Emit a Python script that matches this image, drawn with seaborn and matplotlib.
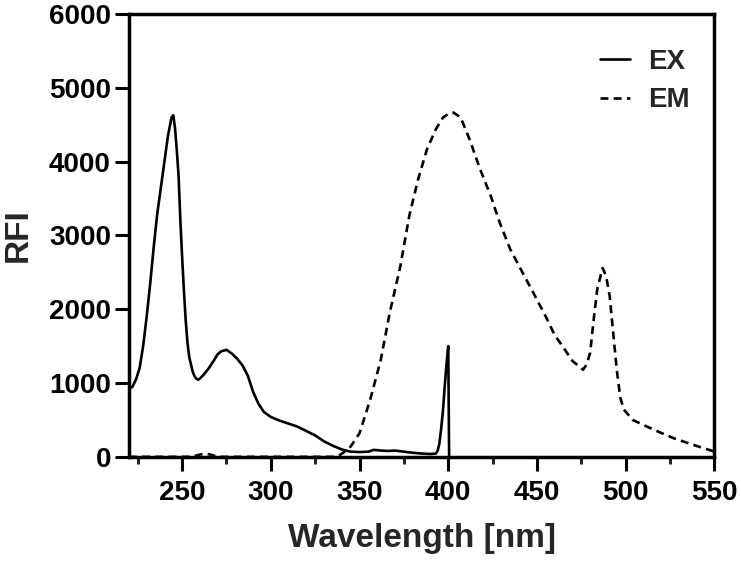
import numpy as np
import pandas as pd
import matplotlib
matplotlib.use("Agg")
import matplotlib.pyplot as plt
import seaborn as sns
from matplotlib.ticker import MultipleLocator

# Excitation spectrum
ex_wl = [220, 222, 224, 226, 228, 230, 232, 234, 236, 238, 240, 242, 244, 245,
         246, 247, 248, 249, 250, 251, 252, 253, 254, 255, 256, 257, 258, 259,
         260, 262, 265, 268, 270, 272, 275, 278, 281, 284, 287, 290, 293, 296,
         300, 305, 310, 315, 320, 325, 330, 335, 340, 345, 350, 355, 358, 362,
         366, 370, 375, 380, 385, 390, 393, 394, 395, 396, 397, 398, 399, 400,
         400.5]
ex_rfi = [920, 950, 1050, 1200, 1500, 1900, 2350, 2850, 3300, 3650, 4000, 4350,
          4600, 4630, 4450, 4150, 3800, 3200, 2700, 2250, 1850, 1550, 1350, 1250,
          1150, 1090, 1060, 1045, 1060, 1110, 1200, 1310, 1390, 1430, 1450, 1400,
          1330, 1240, 1100, 880, 720, 610, 540, 490, 450, 410, 350, 290, 210, 150,
          100, 70, 65, 70, 95, 85, 80, 85, 70, 55, 45, 38, 45, 80, 180, 380, 620,
          950, 1250, 1500, 0]

# Emission spectrum
em_wl = [220, 255, 260, 263, 266, 270, 335, 338, 341, 345, 350, 356, 362, 367,
         373, 378, 383, 388, 393, 397, 401, 403, 407, 412, 418, 424, 429, 435,
         441, 448, 455, 460, 465, 470, 476, 478, 480, 482, 484, 487, 489, 491,
         493, 495, 497, 499, 504, 516, 527, 538, 550]
em_rfi = [0, 0, 30, 45, 30, 0, 0, 10, 60, 140, 320, 774, 1317, 1950, 2583, 3262,
          3760, 4167, 4439, 4597, 4665, 4665, 4600, 4303, 3896, 3533, 3176, 2810,
          2538, 2222, 1900, 1650, 1480, 1300, 1180, 1250, 1410, 1860, 2270, 2560,
          2450, 2180, 1680, 1180, 800, 640, 500, 366, 253, 163, 72]

ex = pd.DataFrame({"Wavelength": ex_wl, "RFI": ex_rfi})
em = pd.DataFrame({"Wavelength": em_wl, "RFI": em_rfi})

sns.set_style("ticks")
plt.rcParams["font.family"] = ["Liberation Sans", "DejaVu Sans"]
plt.rcParams["font.weight"] = "bold"

fig = plt.figure(figsize=(7.41, 5.64), dpi=100)
ax = fig.add_axes([0.174, 0.19, 0.79, 0.785])

sns.lineplot(data=ex, x="Wavelength", y="RFI", ax=ax, color="black",
             linewidth=1.9, label="EX", sort=False)
sns.lineplot(data=em, x="Wavelength", y="RFI", ax=ax, color="black",
             linewidth=1.9, linestyle=(0, (3, 2)), label="EM", sort=False)

ax.set_xlim(220, 550)
ax.set_ylim(0, 6000)
ax.xaxis.set_major_locator(MultipleLocator(50))
ax.xaxis.set_minor_locator(MultipleLocator(25))
ax.yaxis.set_major_locator(MultipleLocator(1000))

for s in ax.spines.values():
    s.set_linewidth(2.5)
    s.set_color("black")
ax.tick_params(axis="both", which="major", length=10, width=2.2, labelsize=20,
               pad=3, colors="black")
ax.tick_params(axis="x", which="major", pad=7)
ax.tick_params(axis="x", which="minor", length=5, width=2.2)

ax.set_xlabel("Wavelength [nm]", fontsize=24, fontweight="bold", labelpad=12)
ax.set_ylabel("RFI", fontsize=24, fontweight="bold", labelpad=11)

leg = ax.legend(loc="upper right", bbox_to_anchor=(1.0, 0.978), frameon=False,
                fontsize=20, handlelength=1.08, handletextpad=0.65,
                labelspacing=0.45)
for t in leg.get_texts():
    t.set_fontweight("bold")

fig.savefig("out.png", dpi=100)
